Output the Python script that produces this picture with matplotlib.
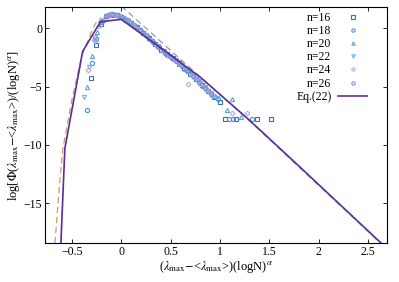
import numpy as np
import matplotlib
matplotlib.use('Agg')
import matplotlib.pyplot as plt

plt.rcParams['font.family'] = ['Liberation Serif', 'DejaVu Serif']
plt.rcParams['mathtext.fontset'] = 'stix'

# data
x16 = [-0.31, -0.25, -0.20, -0.15, -0.10, -0.05, 0.00, 0.05, 0.10, 0.16, 0.22, 0.28, 0.34, 0.40,
       0.46, 0.52, 0.58, 0.64, 0.70, 0.76, 0.82, 0.88, 0.94, 1.00, 1.05, 1.16, 1.37, 1.52]
y16 = [-4.3, -1.45, 0.35, 1.0, 1.15, 1.1, 0.95, 0.7, 0.45, 0.05, -0.4, -0.85, -1.35, -1.85,
       -2.25, -2.6, -3.0, -3.45, -3.9, -4.35, -4.9, -5.4, -5.9, -6.3, -7.8, -7.8, -7.8, -7.8]

x18 = [-0.35, -0.30, -0.25, -0.19, -0.13, -0.08, -0.03, 0.03, 0.08, 0.14, 0.20, 0.26, 0.32, 0.38,
       0.44, 0.50, 0.56, 0.62, 0.68, 0.74, 0.80, 0.86, 0.92, 0.98, 1.09, 1.13, 1.32]
y18 = [-7.0, -3.0, -0.9, 0.6, 1.1, 1.2, 1.1, 0.85, 0.55, 0.15, -0.25, -0.7, -1.2, -1.65,
       -2.1, -2.45, -2.85, -3.25, -3.7, -4.15, -4.7, -5.2, -5.7, -6.1, -7.8, -7.8, -7.8]

x20 = [-0.35, -0.30, -0.24, -0.18, -0.12, -0.07, -0.01, 0.05, 0.11, 0.17, 0.23, 0.29, 0.35, 0.41,
       0.47, 0.53, 0.59, 0.65, 0.71, 0.77, 0.83, 0.89, 0.95, 1.07, 1.12, 1.21]
y20 = [-5.0, -2.4, -0.3, 0.7, 1.1, 1.2, 1.05, 0.75, 0.4, 0.0, -0.45, -0.9, -1.4, -1.9,
       -2.3, -2.65, -3.05, -3.5, -3.95, -4.4, -4.95, -5.4, -5.8, -7.0, -6.1, -7.6]

x22 = [-0.38, -0.33, -0.27, -0.21, -0.15, -0.10, -0.04, 0.02, 0.07, 0.13, 0.19, 0.25, 0.31, 0.37,
       0.43, 0.49, 0.55, 0.61, 0.67, 0.73, 0.79, 0.85, 0.91, 0.97]
y22 = [-5.9, -3.3, -1.2, 0.4, 1.0, 1.2, 1.15, 0.9, 0.6, 0.2, -0.2, -0.6, -1.1, -1.55,
       -2.0, -2.4, -2.75, -3.15, -3.6, -4.05, -4.55, -5.05, -5.55, -6.0]

x24 = [-0.34, -0.28, -0.22, -0.16, -0.11, -0.06, 0.00, 0.06, 0.12, 0.18, 0.24, 0.30, 0.36, 0.42,
       0.48, 0.54, 0.60, 0.68, 0.74, 0.80, 0.86, 0.92, 1.12, 1.27]
y24 = [-3.6, -1.0, 0.2, 0.9, 1.15, 1.15, 1.0, 0.7, 0.3, -0.1, -0.55, -1.0, -1.5, -1.95,
       -2.35, -2.7, -3.1, -4.75, -4.2, -4.75, -5.25, -5.75, -7.3, -7.3]

x26 = [-0.26, -0.20, -0.14, -0.09, -0.04, 0.01, 0.07, 0.13, 0.19, 0.25, 0.31, 0.37, 0.43, 0.49,
       0.55, 0.61, 0.67, 0.73, 0.79, 0.85, 0.91]
y26 = [-0.8, 0.5, 1.0, 1.2, 1.15, 0.95, 0.65, 0.25, -0.15, -0.6, -1.1, -1.6, -2.0, -2.4,
       -2.8, -3.2, -3.65, -4.1, -4.6, -5.1, -5.6]

# Eq.(22)
xeq = [-0.61, -0.57, -0.39, -0.21, 0.0, 0.32, 0.80, 1.30, 1.81, 2.63]
yeq = [-18.4, -10.3, -2.0, 0.54, 0.75, -1.2, -4.2, -7.9, -11.9, -18.4]

# asymptotes
xright = [0.0, 0.67, 1.30, 2.63]
yright = [1.9, -3.2, -7.95, -18.45]
xleft = [-0.67, -0.63, -0.59, -0.50, -0.40, -0.30, -0.26, -0.20]
yleft = [-18.4, -14.0, -10.3, -6.2, -2.4, -0.3, 0.4, 0.9]

fig = plt.figure(figsize=(3.99, 2.82), dpi=100)
ax = fig.add_axes([0.113, 0.138, 0.857, 0.837])

ax.plot(xright, yright, color='#9a9a9a', ls=(0, (5, 3)), lw=0.9)
ax.plot(xleft, yleft, color='#c8a060', ls=(0, (5, 3)), lw=0.9)

series = [
    (x16, y16, 's', '#3a6db5', 'n=16'),
    (x18, y18, 'o', '#4a8fd4', 'n=18'),
    (x20, y20, '^', '#5aa3dd', 'n=20'),
    (x22, y22, 'v', '#6cb2e6', 'n=22'),
    (x24, y24, 'D', '#b8a8e0', 'n=24'),
    (x26, y26, 'o', '#8a8ccc', 'n=26'),
]
for xs, ys, m, c, lab in series:
    ms = 2.4 if m == 'D' else 3.0
    ax.plot(xs, ys, ls='none', marker=m, ms=ms, mfc='none', mec=c, mew=0.8, label=lab)

ax.plot(xeq, yeq, color='#5a2d9c', lw=1.2, label='Eq.(22)')

ax.set_xlim(-0.77, 2.69)
ax.set_ylim(-18.4, 1.8)
ax.set_xticks([-0.5, 0, 0.5, 1, 1.5, 2, 2.5])
ax.set_xticklabels(['\u22120.5', '0', '0.5', '1', '1.5', '2', '2.5'])
ax.set_yticks([0, -5, -10, -15])
ax.set_yticklabels(['0', '\u22125', '\u221210', '\u221215'])
ax.tick_params(direction='in', top=True, right=True, labelsize=8.5, length=3, width=0.6, pad=2)
for s in ax.spines.values():
    s.set_linewidth(0.8)

ax.set_xlabel(r'($\lambda_{\rm max}$$-$<$\lambda_{\rm max}$>)(logN)$^{\alpha}$', fontsize=9, labelpad=1)
ax.set_ylabel(r'log[$\Phi$($\lambda_{\rm max}$$-$<$\lambda_{\rm max}$>)/(logN)$^{\alpha}$]', fontsize=9, labelpad=1)

leg = ax.legend(loc='upper right', bbox_to_anchor=(0.965, 1.015), markerfirst=False, frameon=False,
                fontsize=8.5, markerscale=0.8, handlelength=2.4, labelspacing=0.1,
                borderaxespad=0.3, handletextpad=0.6)

fig.savefig('out.png', dpi=100)
